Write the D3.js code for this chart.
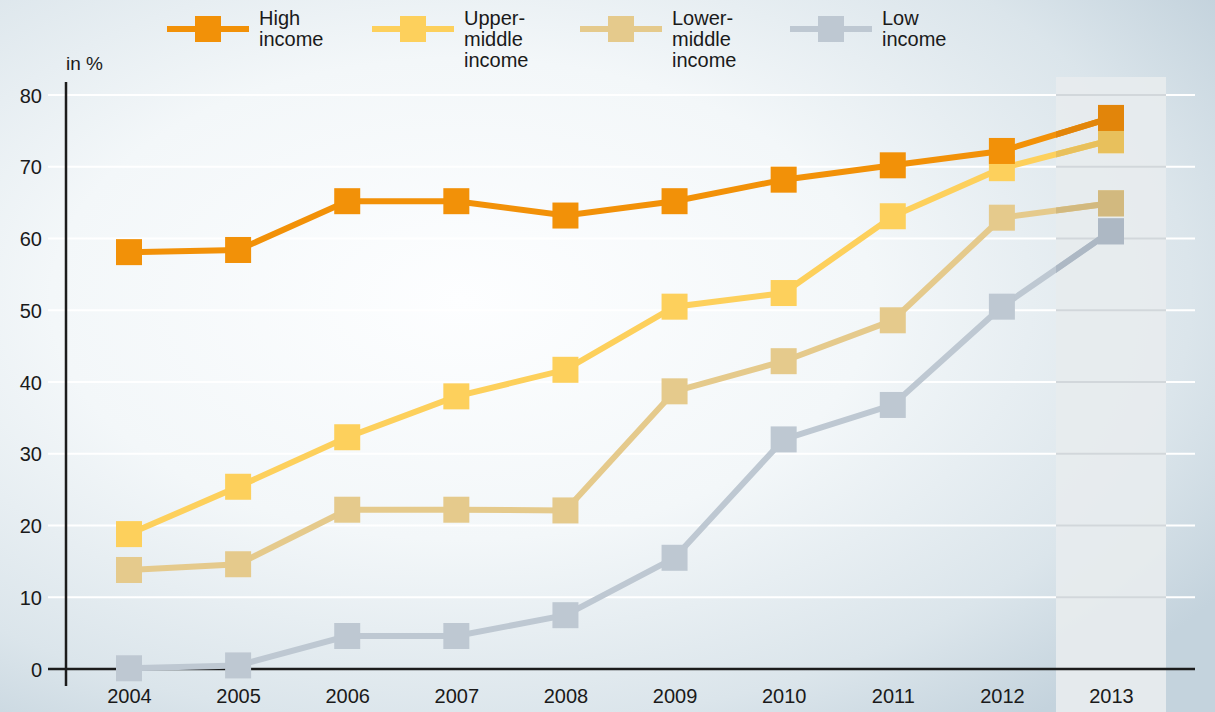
<!DOCTYPE html>
<html>
<head>
<meta charset="utf-8">
<script src="https://cdn.jsdelivr.net/npm/d3@7"></script>
<style>
  html, body { margin: 0; padding: 0; }
  body { width: 1215px; height: 712px; overflow: hidden; }
  text { font-family: "Liberation Sans", Arial, sans-serif; fill: #1a1a1a; }
</style>
</head>
<body>
<div id="chart"></div>
<script>
// data
const years = [2004, 2005, 2006, 2007, 2008, 2009, 2010, 2011, 2012, 2013];
const highIncome  = [58.1, 58.4, 65.2, 65.2, 63.2, 65.2, 68.2, 70.2, 72.2, 76.8];
const upperMiddle = [18.8, 25.4, 32.3, 38.0, 41.7, 50.5, 52.4, 63.1, 69.8, 73.7];
const lowerMiddle = [13.8, 14.6, 22.2, 22.2, 22.1, 38.7, 42.9, 48.6, 62.9, 64.9];
const lowIncome   = [0.1, 0.5, 4.6, 4.6, 7.5, 15.5, 32.0, 36.8, 50.5, 61.0];
const yTicks = [0, 10, 20, 30, 40, 50, 60, 70, 80];
const seriesNames = [["High", "income"], ["Upper-", "middle", "income"], ["Lower-", "middle", "income"], ["Low", "income"]];

const width = 1215, height = 712;

const series = [
  { name: seriesNames[0], values: highIncome,  color: "#f29108", dark: "#e2850a", legendX: 167 },
  { name: seriesNames[1], values: upperMiddle, color: "#fdd05c", dark: "#e8c05c", legendX: 372 },
  { name: seriesNames[2], values: lowerMiddle, color: "#e5ca8c", dark: "#d2b97f", legendX: 580 },
  { name: seriesNames[3], values: lowIncome,   color: "#bec8d2", dark: "#adb8c4", legendX: 790 }
];

const x = d3.scaleLinear().domain([2004, 2013]).range([129, 1111]);
const y = d3.scaleLinear().domain([0, 80]).range([669, 95]);

const svg = d3.select("#chart").append("svg")
  .attr("width", width)
  .attr("height", height);

const defs = svg.append("defs");
const bg = defs.append("radialGradient")
  .attr("id", "bg")
  .attr("cx", "38%").attr("cy", "42%").attr("r", "75%");
bg.append("stop").attr("offset", "0%").attr("stop-color", "#fdfeff");
bg.append("stop").attr("offset", "45%").attr("stop-color", "#f3f7f9");
bg.append("stop").attr("offset", "80%").attr("stop-color", "#dbe5eb");
bg.append("stop").attr("offset", "100%").attr("stop-color", "#c4d3dd");

svg.append("rect")
  .attr("width", width).attr("height", height)
  .attr("fill", "url(#bg)");

// highlighted 2013 column
const hx0 = x(2013) - 55, hx1 = x(2013) + 55;
defs.append("clipPath").attr("id", "hl")
  .append("rect").attr("x", hx0).attr("y", 77).attr("width", hx1 - hx0).attr("height", height);

// gridlines
svg.append("g").selectAll("line")
  .data(yTicks.filter(d => d > 0))
  .join("line")
  .attr("x1", 48).attr("x2", 1195)
  .attr("y1", d => y(d)).attr("y2", d => y(d))
  .attr("stroke", "#ffffff")
  .attr("stroke-width", 2);

svg.append("rect")
  .attr("x", hx0).attr("y", 77)
  .attr("width", hx1 - hx0).attr("height", height - 77)
  .attr("fill", "#e7ebee")
  .attr("opacity", 0.92);

svg.append("g").selectAll("line")
  .data(yTicks.filter(d => d > 0))
  .join("line")
  .attr("x1", hx0).attr("x2", hx1)
  .attr("y1", d => y(d)).attr("y2", d => y(d))
  .attr("stroke", "#d2d7db")
  .attr("stroke-width", 2);

// axes
const yAxis = d3.axisLeft(y).tickValues(yTicks).tickSize(0).tickPadding(0);
const yg = svg.append("g").attr("transform", "translate(42,0)").call(yAxis);
yg.select(".domain").remove();
yg.selectAll("text").attr("font-size", 20).attr("fill", "#1a1a1a").attr("dy", "0.35em");

const xAxis = d3.axisBottom(x).tickValues(years).tickFormat(d3.format("d")).tickSize(0).tickPadding(0);
const xg = svg.append("g").attr("transform", "translate(0,689)").call(xAxis);
xg.select(".domain").remove();
xg.selectAll("text").attr("font-size", 20).attr("fill", "#1a1a1a").attr("dy", "0.7em");

svg.append("line")
  .attr("x1", 66).attr("x2", 66).attr("y1", 82).attr("y2", 686)
  .attr("stroke", "#1c1c1c").attr("stroke-width", 2.5);
svg.append("line")
  .attr("x1", 48).attr("x2", 1195).attr("y1", y(0)).attr("y2", y(0))
  .attr("stroke", "#1c1c1c").attr("stroke-width", 2.5);

svg.append("text")
  .attr("x", 66).attr("y", 70)
  .attr("font-size", 19)
  .text("in %");

// lines and markers
const line = d3.line()
  .x((d, i) => x(years[i]))
  .y(d => y(d));

const ms = 26;

function drawSeries(g, colorKey) {
  const order = series.slice().reverse();
  g.selectAll("path")
    .data(order)
    .join("path")
    .attr("d", d => line(d.values))
    .attr("fill", "none")
    .attr("stroke", d => d[colorKey])
    .attr("stroke-width", 6);
  order.forEach(s => {
    g.append("g").selectAll("rect")
      .data(s.values)
      .join("rect")
      .attr("x", (d, i) => x(years[i]) - ms / 2)
      .attr("y", d => y(d) - ms / 2)
      .attr("width", ms).attr("height", ms)
      .attr("fill", s[colorKey]);
  });
}

drawSeries(svg.append("g"), "color");
drawSeries(svg.append("g").attr("clip-path", "url(#hl)"), "dark");

// legend
const legend = svg.append("g");
series.forEach(s => {
  const lg = legend.append("g").attr("transform", `translate(${s.legendX},29)`);
  lg.append("line")
    .attr("x1", 0).attr("x2", 82)
    .attr("stroke", s.color).attr("stroke-width", 6);
  lg.append("rect")
    .attr("x", 28).attr("y", -13)
    .attr("width", 26).attr("height", 26)
    .attr("fill", s.color);
  lg.append("text")
    .attr("x", 92).attr("y", -4)
    .attr("font-size", 20)
    .selectAll("tspan")
    .data(s.name)
    .join("tspan")
    .attr("x", 92)
    .attr("dy", (d, i) => i === 0 ? 0 : 21)
    .text(d => d);
});
</script>
</body>
</html>
